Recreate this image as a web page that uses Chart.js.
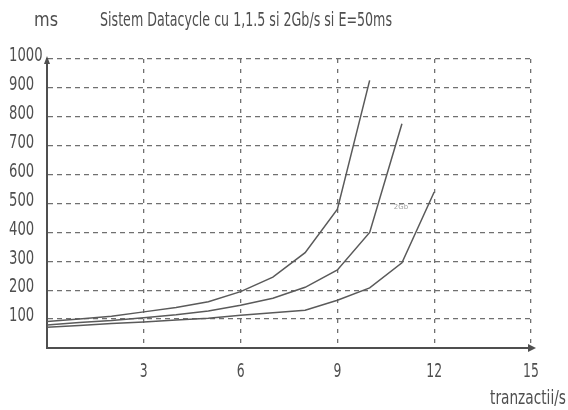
<!DOCTYPE html>
<html>
<head>
<meta charset="utf-8">
<script src="https://cdn.jsdelivr.net/npm/chart.js@4"></script>
<style>
  html, body { margin: 0; padding: 0; background: #fff; }
  #wrap { width: 568px; height: 410px; }
</style>
</head>
<body>
<div id="wrap"><canvas id="c" width="568" height="410"></canvas></div>
<script>
// values (ms vs tranzactii/s)
var xValues = [0, 1, 2, 3, 4, 5, 6, 7, 8, 9, 10, 11, 12];
var series1 = [92, 100, 110, 125, 140, 160, 195, 245, 330, 480, 926];
var series2 = [80, 88, 95, 105, 115, 128, 148, 172, 210, 270, 400, 776];
var series3 = [72, 78, 85, 90, 97, 103, 113, 122, 131, 165, 208, 295, 540];
var xTicks = [3, 6, 9, 12, 15];
var yTicks = [100, 200, 300, 400, 500, 600, 700, 800, 900, 1000];

var titleText = 'Sistem Datacycle cu 1,1.5 si 2Gb/s si E=50ms';
var yUnit = 'ms';
var xUnit = 'tranzactii/s';

var FONT = '"DejaVu Sans", sans-serif';
var ink = '#4f4f4f';
var gridInk = '#707070';

function points(vals) {
    var out = [];
    for (var i = 0; i < vals.length; i++) out.push({x: xValues[i], y: vals[i]});
    return out;
}

function ds(vals) {
    return {
        data: points(vals),
        borderColor: '#5a5a5a',
        borderWidth: 1.5,
        pointRadius: 0,
        tension: 0,
        fill: false
    };
}

// the scan uses a tall narrow typeface, so text is squeezed sideways
function narrowText(ctx, txt, x, y, sx, align) {
    ctx.save();
    ctx.translate(x, y);
    ctx.scale(sx, 1);
    ctx.textAlign = align;
    ctx.fillText(txt, 0, 0);
    ctx.restore();
}

function fitScale(ctx, txt, w) {
    return w / ctx.measureText(txt).width;
}

// tick labels, title, units and axis arrows
var decor = {
    id: 'decor',
    afterDraw: function(chart) {
        var ctx = chart.ctx;
        var a = chart.chartArea;
        var sx = chart.scales.x, sy = chart.scales.y;
        ctx.save();
        ctx.fillStyle = ink;
        ctx.textBaseline = 'middle';

        ctx.font = '20px ' + FONT;
        sy.ticks.forEach(function(t) {
            if (t.value === 0) return;
            narrowText(ctx, String(t.value), 9, sy.getPixelForValue(t.value) - 3, 0.66, 'left');
        });
        sx.ticks.forEach(function(t) {
            if (t.value === 0) return;
            narrowText(ctx, String(t.value), sx.getPixelForValue(t.value), 372, 0.62, 'center');
        });

        ctx.font = '19px ' + FONT;
        narrowText(ctx, titleText, 100, 21, fitScale(ctx, titleText, 292), 'left');
        narrowText(ctx, yUnit, 34, 21, fitScale(ctx, yUnit, 24), 'left');
        narrowText(ctx, xUnit, 566, 399, fitScale(ctx, xUnit, 76), 'right');

        // arrow heads
        ctx.beginPath();
        ctx.moveTo(a.left, a.top - 3);
        ctx.lineTo(a.left - 3, a.top + 5);
        ctx.lineTo(a.left + 3, a.top + 5);
        ctx.closePath();
        ctx.fill();
        ctx.beginPath();
        ctx.moveTo(a.right + 5, a.bottom);
        ctx.lineTo(a.right - 3, a.bottom - 4);
        ctx.lineTo(a.right - 3, a.bottom + 4);
        ctx.closePath();
        ctx.fill();

        // faint mark left on the scan
        ctx.font = '7px ' + FONT;
        ctx.fillStyle = '#a0a0a0';
        ctx.textAlign = 'left';
        ctx.fillText('2Gb', sx.getPixelForValue(10.75), sy.getPixelForValue(487));
        ctx.restore();
    }
};

new Chart(document.getElementById('c'), {
    type: 'line',
    data: { datasets: [ds(series1), ds(series2), ds(series3)] },
    plugins: [decor],
    options: {
        responsive: false,
        animation: false,
        layout: { padding: { left: 9, top: 59, right: 37, bottom: 0 } },
        plugins: { legend: { display: false }, tooltip: { enabled: false } },
        scales: {
            x: {
                type: 'linear',
                min: 0, max: 15,
                afterFit: function(s) { s.height = 62; },
                afterBuildTicks: function(s) {
                    s.ticks = [0].concat(xTicks).map(function(v) { return {value: v}; });
                },
                ticks: { display: false },
                grid: {
                    drawTicks: false,
                    lineWidth: 1.3,
                    color: function(c) { return c.tick && c.tick.value === 0 ? 'rgba(0,0,0,0)' : gridInk; }
                },
                border: { display: true, color: ink, width: 2, dash: [4, 6] }
            },
            y: {
                min: 0, max: 1000,
                afterFit: function(s) { s.width = 38; },
                afterBuildTicks: function(s) {
                    s.ticks = [0].concat(yTicks).map(function(v) { return {value: v}; });
                },
                ticks: { display: false },
                grid: {
                    drawTicks: false,
                    lineWidth: 1.3,
                    color: function(c) { return c.tick && c.tick.value === 0 ? 'rgba(0,0,0,0)' : gridInk; }
                },
                border: { display: true, color: ink, width: 2, dash: [5, 4] }
            }
        }
    }
});
</script>
</body>
</html>
